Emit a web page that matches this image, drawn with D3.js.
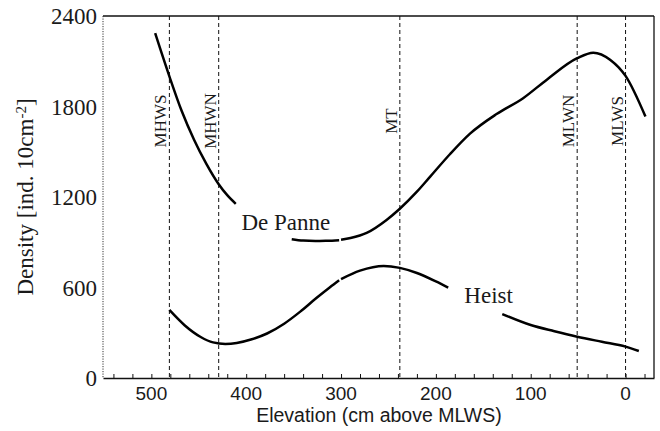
<!DOCTYPE html>
<html>
<head>
<meta charset="utf-8">
<script src="https://cdn.jsdelivr.net/npm/d3@7"></script>
<style>
  body { margin: 0; background: #fff; }
  .serif { font-family: "Liberation Serif", "Times New Roman", serif; fill: #1a1a1a; }
  .sans { font-family: "Liberation Sans", Arial, sans-serif; fill: #1a1a1a; }
</style>
</head>
<body>
<div class="chart"></div>
<script>
// elevation (cm above MLWS) / density values
// null splits the curve where the original line is broken
var dePanneElev = [496, 481, 468, 455, 442, 429, 420, 411,
                   null, 352, 340, 327, 315, 302,
                   null, 300, 290, 273, 252, 238, 220, 206, 185, 164, 136, 108, 83, 51, 34, 16, 0, -21];
var dePanneDens = [2286, 2000, 1770, 1580, 1420, 1285, 1212, 1155,
                   null, 920, 911, 908, 910, 914,
                   null, 916, 928, 962, 1048, 1122, 1235, 1335, 1485, 1620, 1750, 1855, 1978, 2120, 2157, 2109, 2003, 1733];

var heistElev = [481, 465, 448, 435, 422, 410, 395, 378, 360, 343, 326, 312, 302,
                 null, 300, 280, 255, 238, 220, 200, 187,
                 null, 130, 100, 75, 51, 25, 0, -14];
var heistDens = [451, 350, 272, 236, 226, 232, 255, 295, 360, 440, 530, 600, 648,
                 null, 656, 712, 743, 730, 696, 640, 599,
                 null, 424, 351, 310, 274, 240, 208, 179];

// tidal levels
var tideNames = ["MHWS", "MHWN", "MT", "MLWN", "MLWS"];
var tideElev = [481, 429, 238, 51, 0];

// curve labels (placed in data coordinates)
var curveNames = ["De Panne", "Heist"];
var curveLabelElev = [405, 170];
var curveLabelDens = [980, 495];

var xTicks = [500, 400, 300, 200, 100, 0];
var yTicks = [0, 600, 1200, 1800, 2400];

var width = 660, height = 431;
var margin = {top: 16, left: 103, right: 6, bottom: 53};
var w = width - margin.left - margin.right;
var h = height - margin.top - margin.bottom;

var svg = d3.select(".chart").append("svg")
  .attr("width", width)
  .attr("height", height);

var g = svg.append("g")
  .attr("transform", "translate(" + margin.left + "," + margin.top + ")");

var x = d3.scaleLinear().domain([551, -30]).range([0, w]);
var y = d3.scaleLinear().domain([0, 2400]).range([h, 0]);

// frame: top + right solid, left dotted
g.append("line").attr("x1", 0).attr("x2", w).attr("y1", 0).attr("y2", 0)
  .attr("stroke", "#111").attr("stroke-width", 1.3);
g.append("line").attr("x1", w).attr("x2", w).attr("y1", 0).attr("y2", h)
  .attr("stroke", "#111").attr("stroke-width", 1.3);
g.append("line").attr("x1", 0).attr("x2", 0).attr("y1", 0).attr("y2", h)
  .attr("stroke", "#333").attr("stroke-width", 1)
  .attr("stroke-dasharray", "1.2,1.3");

// bottom axis, inward ticks every 20 cm
var xAxis = d3.axisBottom(x)
  .tickValues(d3.range(540, -30, -20))
  .tickSizeInner(-4)
  .tickSizeOuter(0)
  .tickFormat("");
g.append("g")
  .attr("transform", "translate(0," + h + ")")
  .call(xAxis)
  .call(a => a.select(".domain").attr("stroke", "#111").attr("stroke-width", 1.3))
  .call(a => a.selectAll(".tick line").attr("stroke", "#111").attr("stroke-width", 1));

g.selectAll(".xlab")
  .data(xTicks)
  .enter().append("text")
  .attr("class", "sans")
  .attr("x", d => x(d))
  .attr("y", h + 22)
  .attr("text-anchor", "middle")
  .style("font-size", "19px")
  .text(d => d);

g.selectAll(".ylab")
  .data(yTicks)
  .enter().append("text")
  .attr("class", "serif")
  .attr("x", -6)
  .attr("y", d => y(d))
  .attr("dy", "0.36em")
  .attr("text-anchor", "end")
  .style("font-size", "23px")
  .text(d => d);

// tidal level lines
g.selectAll(".tide")
  .data(tideElev)
  .enter().append("line")
  .attr("x1", d => x(d)).attr("x2", d => x(d))
  .attr("y1", 0).attr("y2", h)
  .attr("stroke", "#111")
  .attr("stroke-width", 1)
  .attr("stroke-dasharray", "4,3");

g.selectAll(".tidelab")
  .data(tideNames)
  .enter().append("text")
  .attr("class", "serif")
  .attr("transform", (d, i) => "translate(" + (x(tideElev[i]) - 3) + "," + 105 + ") rotate(-90)")
  .attr("text-anchor", "middle")
  .style("font-size", "17px")
  .text(d => d);

// curves
var line = d3.line()
  .defined(d => d[0] !== null)
  .x(d => x(d[0]))
  .y(d => y(d[1]))
  .curve(d3.curveMonotoneX);

var series = [
  dePanneElev.map((e, i) => [e, dePanneDens[i]]),
  heistElev.map((e, i) => [e, heistDens[i]])
];

g.selectAll(".curve")
  .data(series)
  .enter().append("path")
  .attr("d", line)
  .attr("fill", "none")
  .attr("stroke", "#000")
  .attr("stroke-width", 2.5);

g.selectAll(".curvelab")
  .data(curveNames)
  .enter().append("text")
  .attr("class", "serif")
  .attr("x", (d, i) => x(curveLabelElev[i]))
  .attr("y", (d, i) => y(curveLabelDens[i]))
  .style("font-size", "23px")
  .text(d => d);

// axis titles
svg.append("text")
  .attr("class", "sans")
  .attr("x", margin.left + x(260))
  .attr("y", 422)
  .attr("text-anchor", "middle")
  .style("font-size", "19.5px")
  .text("Elevation (cm above MLWS)");

var yt = svg.append("text")
  .attr("class", "serif")
  .attr("transform", "translate(33," + (margin.top + h / 2) + ") rotate(-90)")
  .attr("text-anchor", "middle")
  .style("font-size", "23px");
yt.append("tspan").text("Density [ind. 10cm");
yt.append("tspan").attr("dy", "-0.45em").style("font-size", "15px").text("-2");
yt.append("tspan").attr("dy", "0.3em").text("]");
</script>
</body>
</html>
